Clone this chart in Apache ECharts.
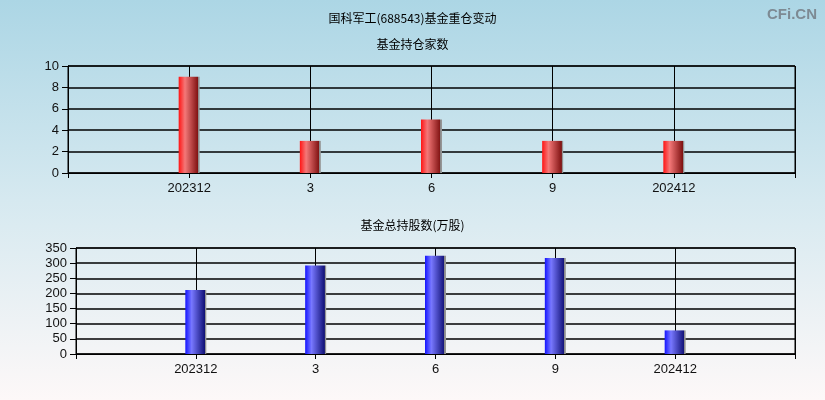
<!DOCTYPE html>
<html>
<head>
<meta charset="utf-8">
<script src="https://cdn.jsdelivr.net/npm/echarts@6/dist/echarts.min.js"></script>
<style>
html,body{margin:0;padding:0;}
#c{width:825px;height:400px;background:linear-gradient(to bottom,#acd6e5 0%,#d6e9f0 50%,#fdf8f8 100%);}
</style>
</head>
<body>
<div id="c"></div>
<script>
// Data
const categories = ['', '202312', '3', '6', '9', '202412', ''];
const fundCount = [null, 9, 3, 5, 3, 3, null];
const fundShares = [null, 211, 292, 324, 317, 78, null];
const countTicks = { min: 0, max: 10, interval: 2 };
const sharesTicks = { min: 0, max: 350, interval: 50 };

const labelFont = "'Liberation Sans Narrow','Arial Narrow','Liberation Sans',Arial,sans-serif";
const cjkFont = "'Noto Sans CJK SC','Liberation Sans',sans-serif";

function grad(c0, c1, c2) {
  return new echarts.graphic.LinearGradient(0, 0, 1, 0, [
    { offset: 0, color: c0 },
    { offset: 0.3, color: c1 },
    { offset: 0.92, color: c2 },
    { offset: 0.925, color: '#8a8a8a' },
    { offset: 1, color: '#9a9a9a' }
  ]);
}

function xAxis(gi) {
  return {
    type: 'category', gridIndex: gi, data: categories, boundaryGap: false,
    axisLine: { show: true, lineStyle: { color: '#000', width: 1 } },
    axisTick: { show: true, interval: 0, length: 5, lineStyle: { color: '#000' } },
    axisLabel: { interval: 0, color: '#111', fontFamily: labelFont, fontSize: 13, margin: 9 },
    splitLine: { show: true, interval: 0, lineStyle: { color: '#000', width: 1 } }
  };
}
function yAxis(gi, t) {
  return {
    type: 'value', gridIndex: gi, min: t.min, max: t.max, interval: t.interval,
    axisLine: { show: true, lineStyle: { color: '#000', width: 1 } },
    axisTick: { show: true, length: 6, lineStyle: { color: '#000' } },
    axisLabel: { color: '#111', fontFamily: labelFont, fontSize: 13, margin: 9 },
    splitLine: { show: true, lineStyle: { color: '#000', width: 1.5 } }
  };
}

const chart = echarts.init(document.getElementById('c'), null, { renderer: 'canvas' });
chart.setOption({
  animation: false,
  backgroundColor: 'transparent',
  title: [
    { text: '国科军工(688543)基金重仓变动', left: 'center', top: 7,
      textStyle: { fontFamily: cjkFont, fontSize: 12, fontWeight: 'normal', color: '#000' } },
    { text: '基金持仓家数', left: 'center', top: 33,
      textStyle: { fontFamily: cjkFont, fontSize: 12, fontWeight: 'normal', color: '#000' } },
    { text: '基金总持股数(万股)', left: 'center', top: 214,
      textStyle: { fontFamily: cjkFont, fontSize: 12, fontWeight: 'normal', color: '#000' } },
    { text: 'CFi.CN', right: 3, top: 2,
      textStyle: { fontFamily: "'Liberation Sans',sans-serif", fontSize: 15, fontWeight: 'bold', color: '#7d8a93' } }
  ],
  grid: [
    { left: 68, right: 30, top: 66, height: 107, show: true, borderColor: '#000', borderWidth: 1, backgroundColor: 'transparent' },
    { left: 76, right: 30, top: 248, height: 106, show: true, borderColor: '#000', borderWidth: 1, backgroundColor: 'transparent' }
  ],
  xAxis: [xAxis(0), xAxis(1)],
  yAxis: [yAxis(0, countTicks), yAxis(1, sharesTicks)],
  series: [
    { type: 'bar', xAxisIndex: 0, yAxisIndex: 0, data: fundCount, barWidth: 21,
      itemStyle: { color: grad('#ff1414', '#f47878', '#801212') } },
    { type: 'bar', xAxisIndex: 1, yAxisIndex: 1, data: fundShares, barWidth: 21,
      itemStyle: { color: grad('#1414ff', '#7878ff', '#121278') } }
  ]
});
</script>
</body>
</html>
